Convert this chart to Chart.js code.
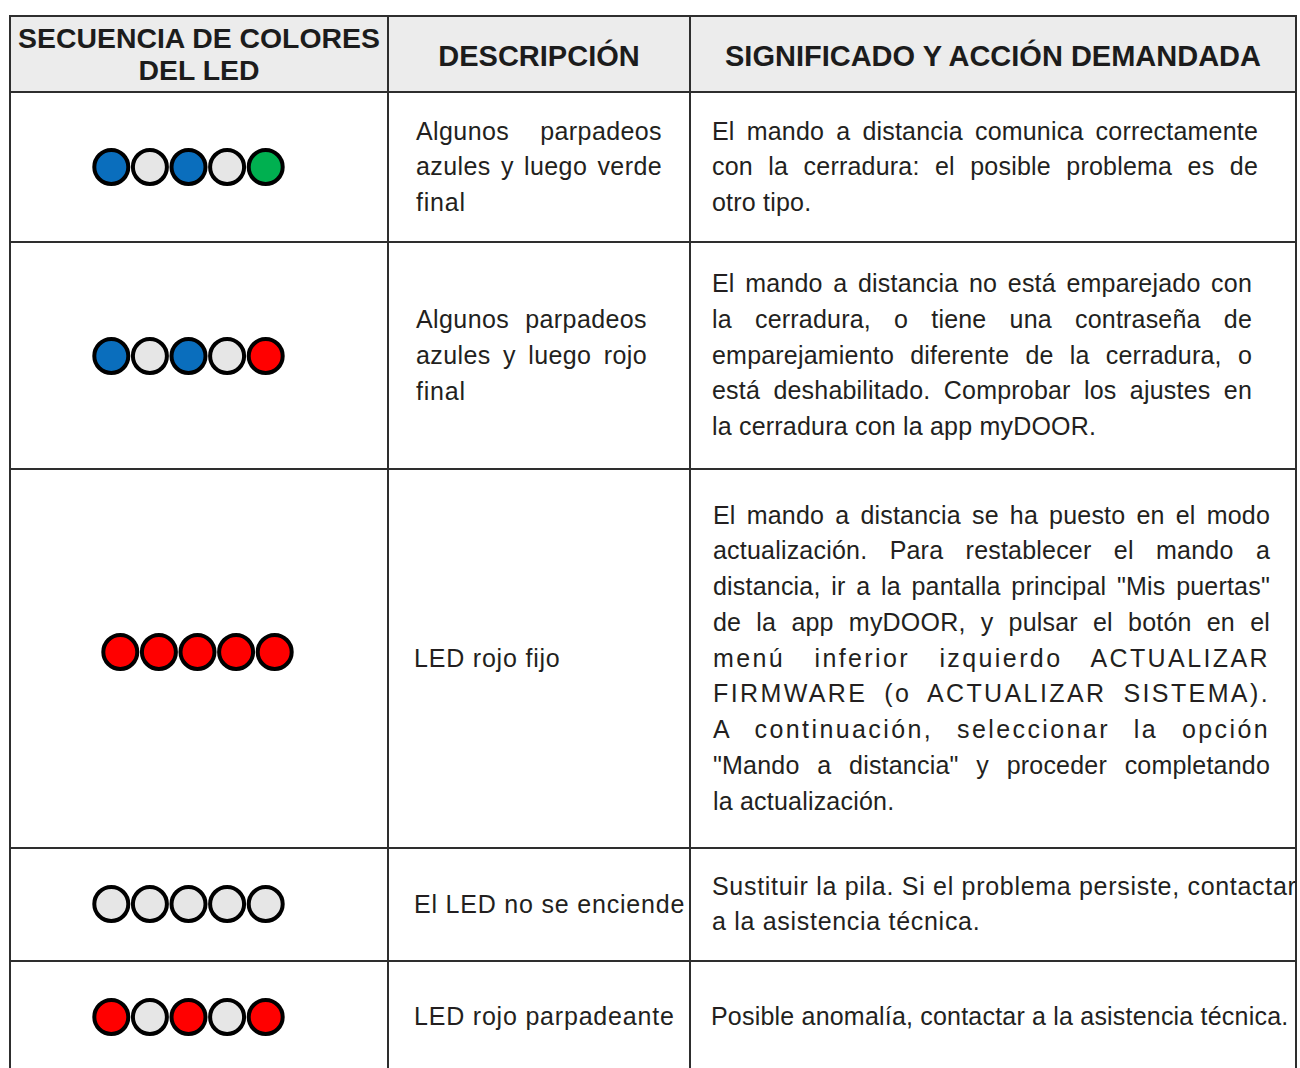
<!DOCTYPE html>
<html lang="es">
<head>
<meta charset="utf-8">
<title>Secuencia de colores del LED</title>
<script src="https://cdn.jsdelivr.net/npm/chart.js@4/dist/chart.umd.min.js"></script>
<style>
  html, body { margin: 0; padding: 0; background: #fff; }
  body { width: 1300px; height: 1068px; overflow: hidden; position: relative;
         font-family: "Liberation Sans", Arial, Helvetica, sans-serif; color: #231f20; }
  .cell { position: absolute; box-sizing: border-box; border: 2px solid #2e2e2e; overflow: hidden; }
  .head { background: #ececec; display: flex; align-items: center; justify-content: center;
          text-align: center; font-weight: bold; font-size: 29px; line-height: 32px; color: #1c1c1c; }
  .head.c0 { font-size: 28.4px; }
  .head.c1, .head.c2 { padding-top: 4px; }
  .txt { position: absolute; font-size: 25px; line-height: 35.8px; letter-spacing: 0.2px; }
  .txt.desc { letter-spacing: 0.8px; }
  .txt div { text-align: justify; text-align-last: justify; }
  .txt.desc div { letter-spacing: 0.4px; }
  .txt div.last { text-align: left; text-align-last: left; white-space: nowrap; }
  .txt.desc div.last { letter-spacing: 0.8px; }
  .led { position: absolute; }
</style>
</head>
<body>
<script>
// --- data ---
const LED_COLORS = { azul: '#0a6ebd', apagado: '#e6e6e6', verde: '#00b050', rojo: '#ff0000' };

const headers = ['SECUENCIA DE COLORES<br>DEL LED', 'DESCRIPCIÓN', 'SIGNIFICADO Y ACCIÓN DEMANDADA'];

const sequences = [
    ['azul', 'apagado', 'azul', 'apagado', 'verde'],
    ['azul', 'apagado', 'azul', 'apagado', 'rojo'],
    ['rojo', 'rojo', 'rojo', 'rojo', 'rojo'],
    ['apagado', 'apagado', 'apagado', 'apagado', 'apagado'],
    ['rojo', 'apagado', 'rojo', 'apagado', 'rojo']
];

const descriptions = [
    ['Algunos  parpadeos', 'azules y luego verde', 'final'],
    ['Algunos parpadeos', 'azules y luego rojo', 'final'],
    ['LED rojo fijo'],
    ['El LED no se enciende'],
    ['LED rojo parpadeante']
];

const meanings = [
    ['El mando a distancia comunica correctamente', 'con la cerradura: el posible problema es de', 'otro tipo.'],
    ['El mando a distancia no está emparejado con', 'la cerradura, o tiene una contraseña de',
     'emparejamiento diferente de la cerradura, o', 'está deshabilitado. Comprobar los ajustes en',
     'la cerradura con la app myDOOR.'],
    ['El mando a distancia se ha puesto en el modo', 'actualización. Para restablecer el mando a',
     'distancia, ir a la pantalla principal "Mis puertas"', 'de la app myDOOR, y pulsar el botón en el',
     'menú inferior izquierdo ACTUALIZAR', 'FIRMWARE (o ACTUALIZAR SISTEMA).',
     'A continuación, seleccionar la opción', '"Mando a distancia" y proceder completando',
     'la actualización.'],
    ['Sustituir la pila. Si el problema persiste, contactar', 'a la asistencia técnica.'],
    ['Posible anomalía, contactar a la asistencia técnica.']
];

// --- layout ---
const colX = [10, 388, 690, 1296];
const rowY = [16, 92, 242, 469, 848, 961, 1073];
const ledFirstX = [111, 111, 120, 111, 111];
const ledCenterY = [167, 356, 652, 904, 1017];
const descBox = [[416, 246], [416, 231], [414, 0], [414, 0], [414, 0]];
const meanBox = [[712, 546], [712, 540], [713, 557], [712, 0], [711, 0]];
const meanTracking = [null, null, null, '0.7px', null];
const wideTracking = ['menú inferior izquierdo ACTUALIZAR', 'FIRMWARE (o ACTUALIZAR SISTEMA).', 'A continuación, seleccionar la opción'];
const LED_STEP = 38.5;

function addCell(c, r, cls) {
    const d = document.createElement('div');
    d.className = 'cell ' + (cls || '');
    d.style.left = (colX[c] - 1) + 'px';
    d.style.top = (rowY[r] - 1) + 'px';
    d.style.width = (colX[c + 1] - colX[c] + 2) + 'px';
    d.style.height = (rowY[r + 1] - rowY[r] + 2) + 'px';
    document.body.appendChild(d);
    return d;
}

function addText(lines, box, r, cls, tracking) {
    const t = document.createElement('div');
    t.className = 'txt ' + cls;
    t.style.left = box[0] + 'px';
    if (box[1]) t.style.width = box[1] + 'px';
    if (tracking) t.style.letterSpacing = tracking;
    lines.forEach((s, i) => {
        const l = document.createElement('div');
        l.textContent = s;
        if (i === lines.length - 1 || !box[1]) l.className = 'last';
        if (wideTracking.includes(s)) l.style.letterSpacing = '2.4px';
        t.appendChild(l);
    });
    document.body.appendChild(t);
    const mid = (rowY[r + 1] + rowY[r]) / 2;
    t.style.top = (mid - t.offsetHeight / 2) + 'px';
}

headers.forEach((h, c) => { addCell(c, 0, 'head c' + c).innerHTML = h; });

function renderLeds(r) {
    const cv = document.createElement('canvas');
    cv.className = 'led';
    cv.width = Math.round(LED_STEP * 5);
    cv.height = 46;
    cv.style.left = (ledFirstX[r] - LED_STEP / 2) + 'px';
    cv.style.top = (ledCenterY[r] - 23) + 'px';
    document.body.appendChild(cv);
    const seq = sequences[r];
    return new Chart(cv.getContext('2d'), {
        type: 'scatter',
        data: {
            datasets: [{
                data: seq.map((_, i) => ({ x: i, y: 0 })),
                clip: false,
                pointRadius: 17,
                pointBorderWidth: 4,
                pointBorderColor: '#000',
                pointBackgroundColor: seq.map(k => LED_COLORS[k])
            }]
        },
        options: {
            responsive: false,
            maintainAspectRatio: false,
            animation: false,
            events: [],
            layout: { padding: 0, autoPadding: false },
            plugins: { legend: { display: false }, tooltip: { enabled: false } },
            scales: {
                x: { type: 'linear', min: -0.5, max: 4.5, display: false },
                y: { type: 'linear', min: -1, max: 1, display: false }
            }
        }
    });
}

sequences.forEach((_, i) => {
    const r = i + 1;
    addCell(0, r);
    addCell(1, r);
    addCell(2, r);
});
sequences.forEach((_, i) => {
    const r = i + 1;
    renderLeds(i);
    addText(descriptions[i], descBox[i], r, 'desc');
    addText(meanings[i], meanBox[i], r, 'mean', meanTracking[i]);
});
</script>
</body>
</html>
